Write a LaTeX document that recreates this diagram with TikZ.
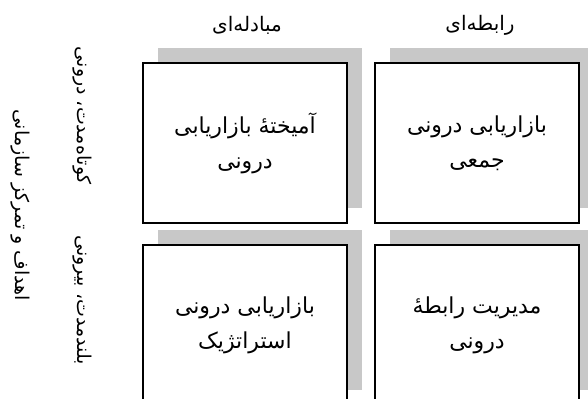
\documentclass[tikz,border=0pt]{standalone}
\usepackage{fontspec}
\usetikzlibrary{positioning,shadows}
\newfontfamily\arabicfont[Script=Arabic]{DejaVu Sans}
\TeXXeTstate=1
\definecolor{shade}{RGB}{200,200,200}

\begin{document}
\begin{tikzpicture}[x=0.5pt, y=-0.5pt,
  cell/.style = {draw, line width=1pt, fill=white, minimum width=102pt, minimum height=80pt,
    inner sep=0pt, align=center, font=\arabicfont\fontsize{11}{17.5}\selectfont,
    drop shadow={shadow xshift=7.5pt, shadow yshift=7.5pt, opacity=1, fill=shade}},
  head/.style = {font=\arabicfont\fontsize{10}{12}\selectfont, inner sep=0pt},
  side/.style = {font=\arabicfont\fontsize{9.5}{12}\selectfont, inner sep=0pt, rotate=-90}]
\useasboundingbox (0,0) rectangle (588,398);
\node[cell] (1) at (245,143) {\beginR آمیختهٔ بازاریابی\endR\\ \beginR درونی\endR};
\node[cell] (2)[right=13pt of 1] {\beginR بازاریابی درونی\endR\\ \beginR جمعی\endR};
\node[cell] (3)[below=10pt of 1] {\beginR بازاریابی درونی\endR\\ \beginR استراتژیک\endR};
\node[cell] (4)[below=10pt of 2] {\beginR مدیریت رابطهٔ\endR\\ \beginR درونی\endR};
\node[head] (t1) at (247,25) {\beginR مبادله‌ای\endR};
\node[head] (t2) at (480,25) {\beginR رابطه‌ای\endR};
\node[side] (s1) at (82,116) {\beginR کوتاه‌مدت، درونی\endR};
\node[side] (s2) at (82,300) {\beginR بلندمدت، بیرونی\endR};
\node[side] (s3) at (20,205) {\beginR اهداف و تمرکز سازمانی\endR};
\end{tikzpicture}
\end{document}
